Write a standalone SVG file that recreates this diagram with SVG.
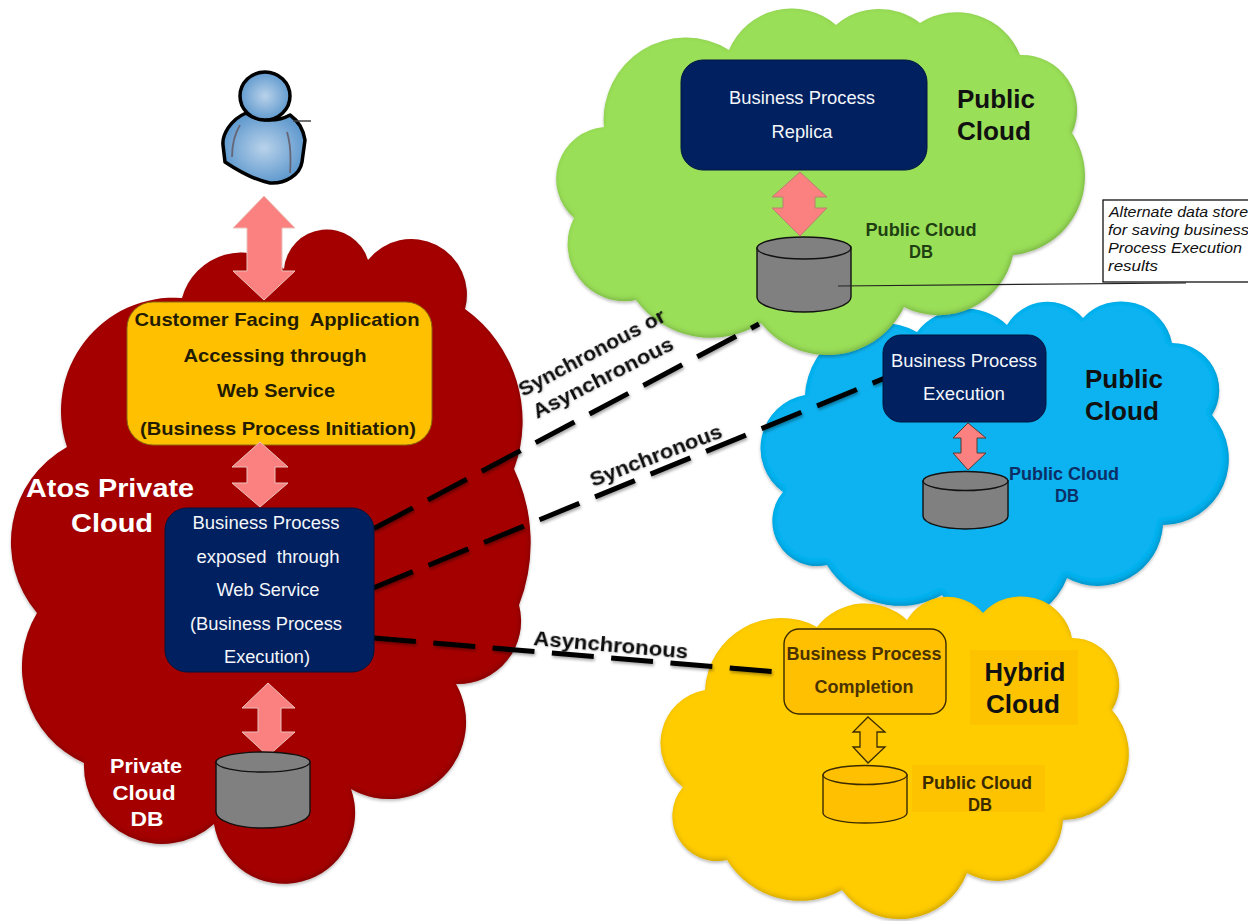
<svg xmlns="http://www.w3.org/2000/svg" width="1248" height="921" viewBox="0 0 1248 921">
<defs>
<radialGradient id="skin" cx="50%" cy="50%" r="62%"><stop offset="0" stop-color="#b9d2ea"/><stop offset="1" stop-color="#4c8dc8"/></radialGradient>
<filter id="bevel" x="-4%" y="-4%" width="108%" height="108%">
<feGaussianBlur in="SourceAlpha" stdDeviation="2.500" result="b"/>
<feOffset in="b" dx="-1" dy="-2" result="o"/>
<feComposite in="SourceAlpha" in2="o" operator="out" result="edge"/>
<feFlood flood-color="#000" flood-opacity="0.4"/>
<feComposite in2="edge" operator="in" result="shade"/>
<feGaussianBlur in="SourceAlpha" stdDeviation="1.500" result="s"/>
<feOffset in="s" dx="0" dy="2" result="s2"/>
<feFlood flood-color="#000" flood-opacity="0.25"/>
<feComposite in2="s2" operator="in" result="drop"/>
<feMerge><feMergeNode in="drop"/><feMergeNode in="SourceGraphic"/><feMergeNode in="shade"/></feMerge>
</filter>
<filter id="ds" x="-5%" y="-20%" width="110%" height="140%"><feDropShadow dx="1" dy="2" stdDeviation="1.500" flood-color="#000" flood-opacity="0.35"/></filter>
<filter id="ds2" x="-5%" y="-20%" width="110%" height="140%"><feDropShadow dx="0.500" dy="1" stdDeviation="0.800" flood-color="#000" flood-opacity="0.18"/></filter>
<path id="cloud-shape" d="M805,395 A76,76 0 0 1 917,332 A61,61 0 0 1 1007,325 A47,47 0 0 1 1083,318 A52,52 0 0 1 1172,343 A47,47 0 0 1 1212,415 A66,66 0 0 1 1163,525 A65,65 0 0 1 1067,578 A72,72 0 0 1 942,595 A86,86 0 0 1 827,565 A45,45 0 0 1 783,492 A54,54 0 0 1 805,395 Z"/>
</defs>
<style>
text{font-family:"Liberation Sans",Arial,sans-serif;text-anchor:middle}
.cloud{filter:url(#bevel)}
.w{fill:#f4f6fa;font-size:17.500px}
.wb{fill:#fff;font-weight:bold}
.cust{fill:#231c00;font-weight:bold;font-size:18.500px}
.kb{fill:#111;font-weight:bold;font-size:25.500px}
.db-t{font-size:17.500px;font-weight:bold}
.arrow{fill:#fb8080;stroke:#b98070;stroke-width:1}
.arrow-pale{stroke:#e8c4bc}
.yl{fill:#fec000;stroke:#3a2a00;stroke-width:1.400}
.db{fill:#808080;stroke:#111;stroke-width:1.400}
.navy{fill:#002060;stroke:#001540;stroke-width:1}
.dash{fill:none;stroke:#000;stroke-width:5;stroke-dasharray:44 17;filter:url(#ds)}
.lbl{font-weight:bold;font-size:20px;fill:#111;text-anchor:start;filter:url(#ds2)}
.note{font-size:14.500px;font-style:italic;fill:#111;text-anchor:start}
</style>
<g id="cloud-red"><path class="cloud" fill="#a40000" d="M182,298 A62,62 0 0 1 284,269 A43,43 0 0 1 368,260 A55.500,55.500 0 0 1 465,309 A138,138 0 0 1 514,469 A172,172 0 0 1 519,605 A63,63 0 0 1 456,684 A77,77 0 0 1 351,789 A71,71 0 1 1 214,824 A78,78 0 0 1 84,763 A105,105 0 0 1 37,613 A109,109 0 0 1 67,447 A113,113 0 0 1 182,298 Z"/></g>
<g id="cloud-blue"><use href="#cloud-shape" class="cloud" fill="#0db2f0"/></g>
<g id="cloud-green"><path class="cloud" fill="#9adf59" d="M604,127 A82,82 0 0 1 729,50 A68,68 0 0 1 836,25 A66,66 0 0 1 920,23 A68,68 0 0 1 1020,55 A55,55 0 0 1 1072,133 A79,79 0 0 1 1013,255 A76,76 0 0 1 904,307 A85,85 0 0 1 761,323 A93,93 0 0 1 636,300 A57,57 0 0 1 574,218 A52,52 0 0 1 604,127 Z"/></g>
<g id="cloud-yellow"><use href="#cloud-shape" class="cloud" fill="#ffcc00" transform="translate(-100,295)"/></g>

<g id="person">
<path fill="url(#skin)" stroke="#000" stroke-width="3.500" stroke-linejoin="round" d="M246,113 C230,120 222,135 223,145 L225,162 C240,172 255,180 270,183 C285,184 300,175 302,162 L305,140 C303,128 297,120 290,115 C278,122 258,122 246,113 Z"/>
<ellipse cx="265" cy="96" rx="25" ry="24" fill="url(#skin)" stroke="#000" stroke-width="3.500"/>
<path fill="none" stroke="#667" stroke-width="1.800" d="M240,125 C234,135 232,148 232,157 M287,132 C291,145 291,160 290,173"/>
<path fill="none" stroke="#444" stroke-width="1.500" d="M293,121 L311,121"/>
</g>

<g id="connectors">
<line class="dash" x1="374" y1="528.500" x2="759" y2="324"/>
<line class="dash" x1="373" y1="588" x2="885" y2="378" style="stroke-dasharray:43 17"/>
<line class="dash" style="stroke-dasharray:42 17.500" x1="374" y1="638" x2="778" y2="672"/>
</g>

<g id="node-customer"><rect x="127" y="302" width="305" height="143" rx="26" fill="#ffc000" stroke="#8a6a10"/>
<text class="cust" xml:space="preserve" x="277" y="326" textLength="285" lengthAdjust="spacingAndGlyphs">Customer Facing  Application</text>
<text class="cust" x="275" y="362" textLength="183" lengthAdjust="spacingAndGlyphs">Accessing through</text>
<text class="cust" x="276" y="397" textLength="118" lengthAdjust="spacingAndGlyphs">Web Service</text>
<text class="cust" x="278" y="435" textLength="276" lengthAdjust="spacingAndGlyphs">(Business Process Initiation)</text></g>
<path id="arrow-user" class="arrow arrow-pale" d="M264,196 L295,228 L282,228 L282,271 L295,271 L264,300 L233,271 L247,271 L247,228 L233,228 Z"/>
<path id="arrow-mid" class="arrow arrow-pale" d="M260,442 L288,467 L275,467 L275,483 L288,483 L260,507 L232,483 L247,483 L247,467 L232,467 Z"/>

<g id="node-bp-exposed"><rect class="navy" x="165" y="508" width="209" height="164" rx="22"/>
<text class="w" x="266" y="529" textLength="147" lengthAdjust="spacingAndGlyphs">Business Process</text>
<text class="w" xml:space="preserve" x="268" y="563" textLength="143" lengthAdjust="spacingAndGlyphs">exposed  through</text>
<text class="w" x="268" y="596" textLength="103" lengthAdjust="spacingAndGlyphs">Web Service</text>
<text class="w" x="266" y="630" textLength="152" lengthAdjust="spacingAndGlyphs">(Business Process</text>
<text class="w" x="267" y="663" textLength="86" lengthAdjust="spacingAndGlyphs">Execution)</text></g>

<g id="label-atos"><text class="wb" font-size="26" x="110" y="497" textLength="168" lengthAdjust="spacingAndGlyphs">Atos Private</text><text class="wb" font-size="26" x="112" y="532" textLength="82" lengthAdjust="spacingAndGlyphs">Cloud</text></g>

<path id="arrow-low" class="arrow arrow-pale" d="M268,683 L295,708 L281,708 L281,732 L295,732 L268,756 L242,732 L258,732 L258,708 L242,708 Z"/>
<g id="db-private"><path class="db" d="M216,762 V812 A47,16 0 0 0 310,812 V762 Z"/><ellipse class="db" cx="263" cy="762" rx="47" ry="10"/>
<text class="wb" font-size="20" x="146" y="773" textLength="72" lengthAdjust="spacingAndGlyphs">Private</text><text class="wb" font-size="20" x="144" y="800" textLength="63" lengthAdjust="spacingAndGlyphs">Cloud</text><text class="wb" font-size="20" x="147" y="826" textLength="33" lengthAdjust="spacingAndGlyphs">DB</text></g>

<g id="node-replica"><rect class="navy" x="681" y="60" width="246" height="110" rx="22"/>
<text class="w" x="802" y="104" textLength="146" lengthAdjust="spacingAndGlyphs">Business Process</text><text class="w" x="802" y="138" textLength="61" lengthAdjust="spacingAndGlyphs">Replica</text></g>
<g id="label-public1"><text class="kb" x="996" y="108" textLength="78" lengthAdjust="spacingAndGlyphs">Public</text><text class="kb" x="994" y="140" textLength="74" lengthAdjust="spacingAndGlyphs">Cloud</text></g>
<path id="arrow-replica" class="arrow" d="M800,172 L827,197 L815,197 L815,208 L827,208 L800,236 L772,208 L783,208 L783,197 L772,197 Z"/>
<g id="db-public1"><path class="db" d="M757,248 V297 A47,15 0 0 0 851,297 V248 Z"/><ellipse class="db" cx="804" cy="248" rx="47" ry="11"/>
<text class="db-t" fill="#1f3f12" x="921" y="236" textLength="111" lengthAdjust="spacingAndGlyphs">Public Cloud</text><text class="db-t" fill="#1f3f12" x="921" y="258" textLength="24" lengthAdjust="spacingAndGlyphs">DB</text></g>

<g id="note"><rect x="1103" y="200" width="160" height="82" fill="#fff" stroke="#111" stroke-width="1.300"/>
<text class="note" x="1109" y="217" textLength="139" lengthAdjust="spacingAndGlyphs">Alternate data store</text>
<text class="note" x="1108" y="235" textLength="141" lengthAdjust="spacingAndGlyphs">for saving business</text>
<text class="note" x="1108" y="253" textLength="134" lengthAdjust="spacingAndGlyphs">Process Execution</text>
<text class="note" x="1108" y="271" textLength="50" lengthAdjust="spacingAndGlyphs">results</text></g>
<path id="leader" d="M838,286 L1186,283" fill="none" stroke="#222" stroke-width="1.200"/>

<g id="node-execution"><rect class="navy" x="883" y="335" width="163" height="87" rx="18"/>
<text class="w" x="964" y="367" textLength="146" lengthAdjust="spacingAndGlyphs">Business Process</text><text class="w" x="964" y="400" textLength="82" lengthAdjust="spacingAndGlyphs">Execution</text></g>
<g id="label-public2"><text class="kb" x="1124" y="388" textLength="78" lengthAdjust="spacingAndGlyphs">Public</text><text class="kb" x="1122" y="420" textLength="74" lengthAdjust="spacingAndGlyphs">Cloud</text></g>
<path id="arrow-exec" class="arrow" style="stroke:#5a3a30" d="M968,423 L986,438 L977,438 L977,453 L986,453 L968,470 L953,453 L961,453 L961,438 L953,438 Z"/>
<g id="db-public2"><path class="db" d="M923,481 V516 A42.500,13 0 0 0 1008,516 V481 Z"/><ellipse class="db" cx="965.500" cy="481" rx="42.500" ry="9.500"/>
<text class="db-t" fill="#0b2f66" x="1064" y="480" textLength="110" lengthAdjust="spacingAndGlyphs">Public Cloud</text><text class="db-t" fill="#0b2f66" x="1067" y="502" textLength="24" lengthAdjust="spacingAndGlyphs">DB</text></g>

<g id="node-completion"><rect class="yl" x="784" y="629" width="162" height="85" rx="15"/>
<text class="db-t" fill="#4a3200" x="864" y="660" textLength="155" lengthAdjust="spacingAndGlyphs">Business Process</text><text class="db-t" fill="#4a3200" x="864" y="693" textLength="99" lengthAdjust="spacingAndGlyphs">Completion</text></g>
<g id="label-hybrid"><rect x="970" y="650" width="108" height="75" fill="#fdc300"/><text class="kb" x="1025" y="681" textLength="81" lengthAdjust="spacingAndGlyphs">Hybrid</text><text class="kb" x="1023" y="713" textLength="74" lengthAdjust="spacingAndGlyphs">Cloud</text></g>
<path id="arrow-completion" d="M868,717 L885,732 L877,732 L877,747 L885,747 L868,763 L853,747 L860,747 L860,732 L853,732 Z" fill="#fec000" stroke="#3a2a00" stroke-width="1.300"/>
<g id="db-public3"><rect x="912" y="765" width="133" height="47" fill="#fdc300"/><path class="yl" d="M823,775 V813 A42,10 0 0 0 907,813 V775 Z"/><ellipse class="yl" cx="865" cy="775" rx="42" ry="9.500"/>
<text class="db-t" fill="#3a2a00" x="977" y="789" textLength="110" lengthAdjust="spacingAndGlyphs">Public Cloud</text><text class="db-t" fill="#3a2a00" x="980" y="811" textLength="24" lengthAdjust="spacingAndGlyphs">DB</text></g>

<g id="connector-labels">
<text class="lbl" transform="translate(523,397) rotate(-28)" textLength="163" lengthAdjust="spacingAndGlyphs">Synchronous or</text>
<text class="lbl" transform="translate(537,419) rotate(-27)" textLength="155" lengthAdjust="spacingAndGlyphs">Asynchronous</text>
<text class="lbl" transform="translate(593,487) rotate(-21)" textLength="140" lengthAdjust="spacingAndGlyphs">Synchronous</text>
<text class="lbl" transform="translate(533,645) rotate(5)" textLength="155" lengthAdjust="spacingAndGlyphs">Asynchronous</text>
</g>
</svg>
